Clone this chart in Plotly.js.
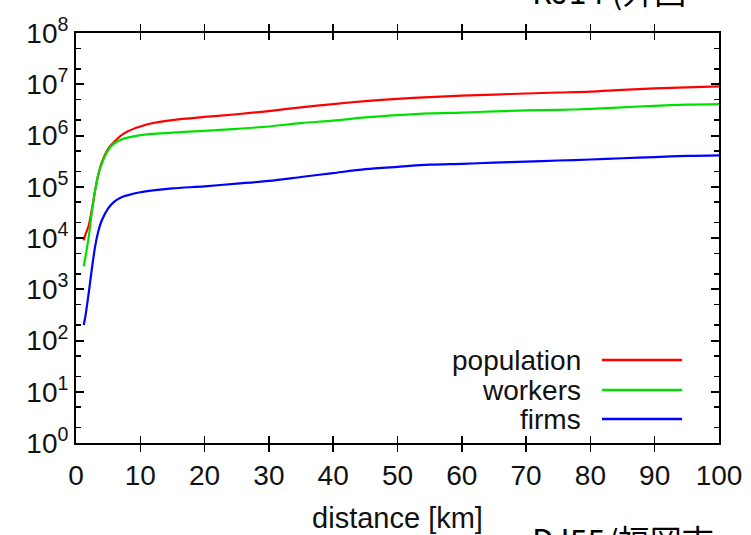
<!DOCTYPE html>
<html>
<head>
<meta charset="utf-8">
<script src="https://cdn.plot.ly/plotly-3.0.1.min.js"></script>
<style>html,body{margin:0;padding:0;background:#fff;}#chart{width:751px;height:535px;}</style>
</head>
<body>
<div id="chart"></div>
<script>
// distance [km]
const distance = [1.2, 1.5, 2, 2.5, 3, 3.5, 4, 5, 6, 7, 8, 10, 12, 15, 20, 25, 30, 35, 40, 45, 50, 55, 60, 65, 70, 75, 80, 85, 90, 95, 100];
const population = [9.0e3, 1.2e4, 1.8e4, 3.8e4, 8.9e4, 1.8e5, 2.95e5, 5.5e5, 7.6e5, 1.0e6, 1.2e6, 1.5e6, 1.75e6, 2.0e6, 2.3e6, 2.6e6, 3.0e6, 3.55e6, 4.1e6, 4.7e6, 5.2e6, 5.6e6, 6.0e6, 6.3e6, 6.6e6, 6.9e6, 7.2e6, 7.8e6, 8.3e6, 8.7e6, 9.1e6];
const workers = [2.8e3, 4.5e3, 1.1e4, 3.5e4, 8.9e4, 1.8e5, 2.8e5, 5.2e5, 7.1e5, 8.3e5, 9.1e5, 1.02e6, 1.08e6, 1.14e6, 1.23e6, 1.35e6, 1.5e6, 1.75e6, 1.95e6, 2.25e6, 2.5e6, 2.7e6, 2.8e6, 2.95e6, 3.1e6, 3.15e6, 3.3e6, 3.55e6, 3.8e6, 4.0e6, 4.1e6];
const firms = [200, 320, 890, 2.7e3, 7.1e3, 1.4e4, 2.2e4, 3.8e4, 5.2e4, 6.2e4, 6.8e4, 7.8e4, 8.5e4, 9.3e4, 1.02e5, 1.15e5, 1.3e5, 1.55e5, 1.85e5, 2.2e5, 2.45e5, 2.7e5, 2.8e5, 2.95e5, 3.1e5, 3.25e5, 3.4e5, 3.6e5, 3.8e5, 4.0e5, 4.1e5];

const seriesNames = ["population", "workers", "firms"];
const seriesColors = ["#ff0000", "#00e000", "#0000ff"];
const xTickVals = [0, 10, 20, 30, 40, 50, 60, 70, 80, 90, 100];
const yTickVals = [1, 10, 100, 1e3, 1e4, 1e5, 1e6, 1e7, 1e8];
const yTickText = ["10<sup>0</sup>", "10<sup>1</sup>", "10<sup>2</sup>", "10<sup>3</sup>", "10<sup>4</sup>", "10<sup>5</sup>", "10<sup>6</sup>", "10<sup>7</sup>", "10<sup>8</sup>"];
const yMinorVals = [2, 5, 20, 50, 200, 500, 2e3, 5e3, 2e4, 5e4, 2e5, 5e5, 2e6, 5e6, 2e7, 5e7];

const FONT = "Liberation Sans, Arial, Helvetica, sans-serif";
const seriesData = [population, workers, firms];

const traces = seriesNames.map((name, i) => ({
  type: "scatter",
  mode: "lines",
  name: name,
  x: distance,
  y: seriesData[i],
  line: {color: seriesColors[i], width: 2.2, shape: "spline", smoothing: 0.8},
  showlegend: false
}));
// carrier trace for the minor-tick overlay axis (invisible)
traces.unshift({
  type: "scatter", mode: "lines", x: distance, y: firms, yaxis: "y2",
  line: {color: "rgba(0,0,0,0)", width: 0}, hoverinfo: "skip", showlegend: false
});

// custom legend (text right-aligned, line sample on the right)
const legY = [0.2024, 0.129, 0.0585];
const annotations = seriesNames.map((name, i) => ({
  xref: "paper", yref: "paper", x: 0.7885, y: legY[i],
  xanchor: "right", yanchor: "middle", showarrow: false,
  text: name, font: {family: FONT, size: 28, color: "#111"}
}));
const shapes = seriesNames.map((name, i) => ({
  type: "line", xref: "paper", yref: "paper",
  x0: 0.818, x1: 0.9425, y0: legY[i], y1: legY[i],
  line: {color: seriesColors[i], width: 2.5}
}));

// cropped slide fragments
annotations.push({
  xref: "paper", yref: "paper", x: 0.706, y: -0.172, xanchor: "left", yanchor: "top",
  showarrow: false, text: "DJ55/福岡市", font: {family: "Noto Sans CJK JP, sans-serif", size: 32, color: "#000"}
});
annotations.push({
  xref: "paper", yref: "paper", x: 0.706, y: 1.045, xanchor: "left", yanchor: "bottom",
  showarrow: false, text: "RJ14 (外国", font: {family: "Noto Sans CJK JP, sans-serif", size: 32, color: "#000"}
});

const layout = {
  width: 751, height: 535,
  margin: {l: 76, r: 32, t: 33, b: 92, pad: 0},
  paper_bgcolor: "#fff", plot_bgcolor: "#fff",
  font: {family: FONT, size: 28, color: "#111"},
  showlegend: false,
  xaxis: {
    range: [0, 100], tickmode: "array", tickvals: xTickVals, ticks: "inside", ticklen: 7, tickwidth: 1.5, tickcolor: "#000",
    showline: true, linecolor: "#000", linewidth: 2, mirror: "allticks", showgrid: false, zeroline: false,
    tickfont: {family: FONT, size: 28, color: "#111"}, ticklabelstandoff: 6,
    title: {text: "distance [km]", font: {family: FONT, size: 29, color: "#111"}, standoff: 18}
  },
  yaxis: {
    type: "log", range: [0, 8], tickmode: "array", tickvals: yTickVals, ticktext: yTickText,
    ticks: "inside", ticklen: 8, tickwidth: 2, tickcolor: "#000",
    showline: true, linecolor: "#000", linewidth: 2, mirror: "allticks", showgrid: false, zeroline: false,
    tickfont: {family: FONT, size: 28, color: "#111"}
  },
  yaxis2: {
    type: "log", range: [0, 8], overlaying: "y", side: "left", anchor: "x",
    tickmode: "array", tickvals: yMinorVals, showticklabels: false,
    ticks: "inside", ticklen: 5, tickwidth: 1.5, tickcolor: "#000",
    showline: false, mirror: "allticks", showgrid: false, zeroline: false
  },
  annotations: annotations,
  shapes: shapes
};

Plotly.newPlot("chart", traces, layout, {staticPlot: true, displayModeBar: false});
</script>
</body>
</html>
